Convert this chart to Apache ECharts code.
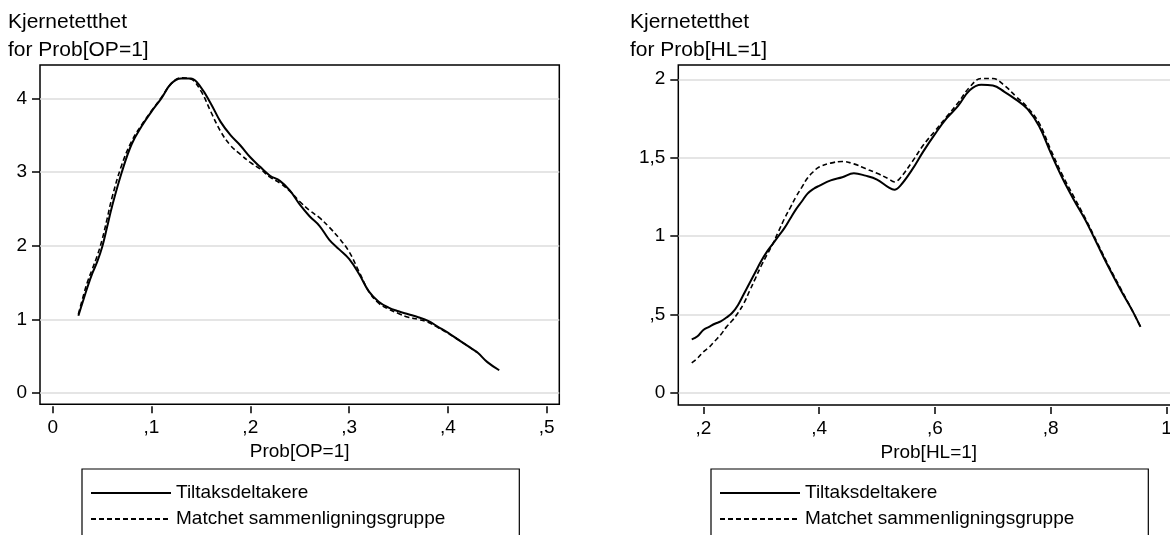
<!DOCTYPE html>
<html>
<head>
<meta charset="utf-8">
<script src="https://cdn.jsdelivr.net/npm/echarts@6/dist/echarts.min.js"></script>
<style>
  html, body { margin: 0; padding: 0; background: #fff; overflow: hidden; }
  #chart { width: 1190px; height: 600px; }
</style>
</head>
<body>
<div id="chart"></div>
<script>
// Prob[OP=1] - kjernetetthet
const opX = [0.026, 0.03, 0.035, 0.04, 0.045, 0.05, 0.055, 0.06, 0.07, 0.08, 0.09, 0.10, 0.11, 0.12, 0.13, 0.14,
  0.15, 0.16, 0.17, 0.18, 0.19, 0.20, 0.21, 0.22, 0.23, 0.24, 0.25, 0.26, 0.27, 0.28, 0.29, 0.30,
  0.31, 0.32, 0.33, 0.34, 0.35, 0.36, 0.37, 0.38, 0.39, 0.40, 0.41, 0.42, 0.43, 0.44, 0.452];
const opTiltak = [1.05, 1.22, 1.43, 1.62, 1.78, 1.98, 2.25, 2.53, 3.0, 3.38, 3.62, 3.82, 4.0, 4.2, 4.27, 4.27,
  4.15, 3.93, 3.68, 3.5, 3.36, 3.2, 3.07, 2.95, 2.88, 2.75, 2.56, 2.4, 2.27, 2.08, 1.95, 1.82,
  1.62, 1.38, 1.24, 1.16, 1.11, 1.07, 1.03, 0.98, 0.9, 0.82, 0.73, 0.64, 0.55, 0.42, 0.31];
const opMatchet = [1.07, 1.27, 1.5, 1.68, 1.86, 2.08, 2.36, 2.65, 3.1, 3.42, 3.64, 3.83, 4.01, 4.2, 4.28, 4.26,
  4.1, 3.82, 3.55, 3.36, 3.24, 3.13, 3.04, 2.93, 2.85, 2.74, 2.6, 2.48, 2.38, 2.25, 2.1, 1.92,
  1.65, 1.38, 1.22, 1.14, 1.08, 1.03, 1.0, 0.96, 0.89, 0.81, 0.73, 0.64, 0.55, null, null];

// Prob[HL=1] - kjernetetthet
const hlX = [0.18, 0.19, 0.20, 0.21, 0.22, 0.23, 0.24, 0.25, 0.26, 0.27, 0.28, 0.29, 0.30, 0.31, 0.32, 0.33,
  0.34, 0.35, 0.36, 0.37, 0.38, 0.39, 0.40, 0.42, 0.44, 0.46, 0.48, 0.50, 0.52, 0.53, 0.54, 0.56,
  0.58, 0.60, 0.62, 0.64, 0.66, 0.68, 0.70, 0.72, 0.74, 0.76, 0.78, 0.80, 0.82, 0.84, 0.86, 0.88,
  0.90, 0.92, 0.94, 0.955];
const hlTiltak = [0.34, 0.36, 0.40, 0.42, 0.44, 0.455, 0.48, 0.51, 0.56, 0.63, 0.70, 0.77, 0.84, 0.90, 0.95, 1.00,
  1.05, 1.11, 1.17, 1.22, 1.27, 1.30, 1.32, 1.355, 1.375, 1.40, 1.385, 1.36, 1.31, 1.295, 1.32, 1.42,
  1.54, 1.65, 1.75, 1.83, 1.93, 1.965, 1.96, 1.92, 1.87, 1.81, 1.70, 1.53, 1.37, 1.23, 1.10, 0.95,
  0.80, 0.66, 0.53, 0.42];
const hlMatchet = [0.19, 0.22, 0.26, 0.29, 0.33, 0.37, 0.42, 0.46, 0.51, 0.57, 0.65, 0.73, 0.81, 0.88, 0.95, 1.03,
  1.11, 1.18, 1.25, 1.31, 1.37, 1.41, 1.44, 1.465, 1.475, 1.46, 1.43, 1.40, 1.365, 1.345, 1.37, 1.47,
  1.58, 1.67, 1.76, 1.85, 1.95, 2.005, 2.005, 1.96, 1.89, 1.82, 1.72, 1.55, 1.39, 1.25, 1.11, 0.96,
  0.81, 0.67, 0.53, 0.42];

const seriesNames = ['Tiltaksdeltakere', 'Matchet sammenligningsgruppe'];

const opXTicks = [0, 0.1, 0.2, 0.3, 0.4, 0.5];
const opXLabels = ['0', ',1', ',2', ',3', ',4', ',5'];
const opYTicks = [0, 1, 2, 3, 4];
const opYLabels = ['0', '1', '2', '3', '4'];
const hlXTicks = [0.2, 0.4, 0.6, 0.8, 1];
const hlXLabels = [',2', ',4', ',6', ',8', '1'];
const hlYTicks = [0, 0.5, 1, 1.5, 2];
const hlYLabels = ['0', ',5', '1', '1,5', '2'];

const chart = echarts.init(document.getElementById('chart'));

const FONT = 'Liberation Sans, Arial, sans-serif';
const pairs = function (xs, ys) {
  return xs.map(function (x, i) { return [x, ys[i]]; }).filter(function (p) { return p[1] != null; });
};
const labelOf = function (ticks, labels) {
  return function (v) {
    for (let i = 0; i < ticks.length; i++) {
      if (Math.abs(ticks[i] - v) < 1e-9) return labels[i];
    }
    return '';
  };
};

const xAxisBase = function (idx, min, max, ticks, labels, name) {
  return {
    type: 'value', gridIndex: idx, min: min, max: max, offset: 2,
    name: name, nameLocation: 'middle', nameGap: 29,
    nameTextStyle: { color: '#000', fontSize: 19, fontFamily: FONT },
    axisLine: { show: false, onZero: false },
    axisTick: { show: true, inside: false, length: 7, customValues: ticks, lineStyle: { color: '#000', width: 1.5 } },
    axisLabel: { customValues: ticks, formatter: labelOf(ticks, labels), margin: 12,
      color: '#000', fontSize: 19, fontFamily: FONT },
    splitLine: { show: false }
  };
};
const yAxisBase = function (idx, min, max, ticks, labels) {
  return {
    type: 'value', gridIndex: idx, min: min, max: max,
    axisLine: { show: false, onZero: false },
    axisTick: { show: true, inside: false, length: 8, customValues: ticks, lineStyle: { color: '#000', width: 1.5 } },
    axisLabel: { customValues: ticks, formatter: labelOf(ticks, labels), margin: 13,
      color: '#000', fontSize: 19, fontFamily: FONT },
    splitLine: { show: true, lineStyle: { color: '#dcdcdc', width: 1.5 } }
  };
};
const legendBase = function (left) {
  return {
    orient: 'vertical', left: left, top: 469,
    data: seriesNames, selectedMode: false,
    itemWidth: 80, itemHeight: 14, itemGap: 4,
    padding: [13, 74, 30, 8],
    borderColor: '#000', borderWidth: 1.2, borderRadius: 0,
    itemStyle: { opacity: 0 },
    textStyle: { color: '#000', fontSize: 19, fontFamily: FONT, lineHeight: 22 }
  };
};
const lineSeries = function (name, idx, data, dashed) {
  return {
    name: name, type: 'line', xAxisIndex: idx, yAxisIndex: idx,
    data: data, symbol: 'none', smooth: 0.4,
    lineStyle: { color: '#000', width: dashed ? 1.6 : 2, type: dashed ? [5, 3] : 'solid' },
    itemStyle: { color: '#000' }
  };
};

chart.setOption({
  backgroundColor: '#fff',
  animation: false,
  title: [
    { text: 'Kjernetetthet\nfor Prob[OP=1]', left: 8, top: 8, padding: 0,
      textStyle: { color: '#000', fontSize: 21, fontWeight: 'normal', fontFamily: FONT, lineHeight: 28 } },
    { text: 'Kjernetetthet\nfor Prob[HL=1]', left: 630, top: 8, padding: 0,
      textStyle: { color: '#000', fontSize: 21, fontWeight: 'normal', fontFamily: FONT, lineHeight: 28 } }
  ],
  grid: [
    { left: 40, top: 65, width: 519.3, height: 339.3, show: true, borderColor: '#000', borderWidth: 1.5 },
    { left: 678.3, top: 65, width: 501, height: 340, show: true, borderColor: '#000', borderWidth: 1.5 }
  ],
  xAxis: [
    xAxisBase(0, -0.01285, 0.5128, opXTicks, opXLabels, 'Prob[OP=1]'),
    xAxisBase(1, 0.1568, 1.022, hlXTicks, hlXLabels, 'Prob[HL=1]')
  ],
  yAxis: [
    yAxisBase(0, -0.152, 4.452, opYTicks, opYLabels),
    yAxisBase(1, -0.0785, 2.091, hlYTicks, hlYLabels)
  ],
  legend: [legendBase(82), legendBase(711)],
  series: [
    lineSeries(seriesNames[0], 0, pairs(opX, opTiltak), false),
    lineSeries(seriesNames[1], 0, pairs(opX, opMatchet), true),
    lineSeries(seriesNames[0], 1, pairs(hlX, hlTiltak), false),
    lineSeries(seriesNames[1], 1, pairs(hlX, hlMatchet), true)
  ]
});
</script>
</body>
</html>
